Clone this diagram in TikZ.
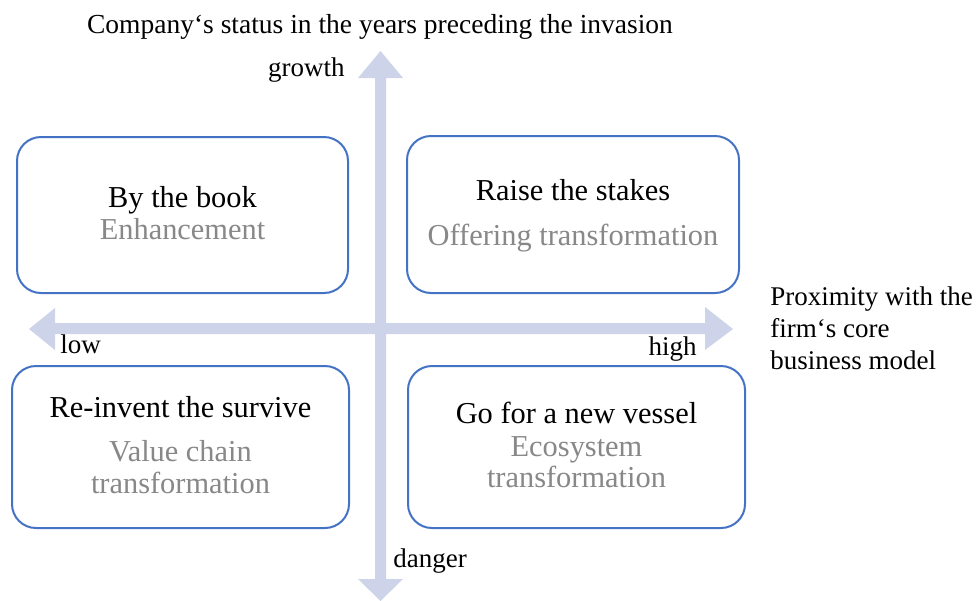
\documentclass[tikz,border=0pt]{standalone}
\usepackage{fontspec}
\setmainfont{Liberation Serif}
\definecolor{axiscol}{RGB}{205,212,234}
\definecolor{boxblue}{RGB}{68,114,196}
\definecolor{subgray}{RGB}{136,136,136}
\tikzset{
  quad/.style={draw=boxblue, line width=1pt, rounded corners=12pt, fill=white, inner sep=0pt},
  maintxt/.style={anchor=base, inner sep=0pt, font=\fontsize{15.2}{17}\selectfont, text=black},
  subtxt/.style={anchor=base, inner sep=0pt, font=\fontsize{15.2}{17}\selectfont, text=subgray},
  lbl/.style={anchor=base, inner sep=0pt, font=\fontsize{13.5}{16}\selectfont, text=black},
  axisfill/.style={fill=axiscol, draw=none}
}
\begin{document}
\begin{tikzpicture}[x=0.5pt,y=-0.5pt]
\useasboundingbox (0,0) rectangle (978,600);
% axes
\fill[axisfill] (55,323) -- (55,308) -- (29,329) -- (55,350) -- (55,334) -- (705,334) -- (705,350) -- (733,329) -- (705,307) -- (705,323) -- cycle;
\fill[axisfill] (375,78) -- (358,78) -- (380.5,51) -- (403,78) -- (386,78) -- (386,579) -- (403,579) -- (380.5,601) -- (358,579) -- (375,579) -- cycle;
% boxes
\node[quad, minimum width=165.5pt, minimum height=78pt] (tl) at (182.5,215) {};
\node[quad, minimum width=166pt, minimum height=78.5pt] (tr) at (573,214.5) {};
\node[quad, minimum width=168.5pt, minimum height=81pt] (bl) at (180.5,447) {};
\node[quad, minimum width=168.5pt, minimum height=81pt] (br) at (576.5,447) {};
% box texts
\node[maintxt] (tl1) at (182.5,207) {By the book};
\node[subtxt] (tl2) at (182.5,239) {Enhancement};
\node[maintxt] (tr1) at (573,200) {Raise the stakes};
\node[subtxt] (tr2) at (573,245) {Offering transformation};
\node[maintxt] (bl1) at (180.5,417) {Re-invent the survive};
\node[subtxt] (bl2) at (180.5,461) {Value chain};
\node[subtxt] (bl3) at (180.5,493) {transformation};
\node[maintxt] (br1) at (576.5,423) {Go for a new vessel};
\node[subtxt] (br2) at (576.5,456) {Ecosystem};
\node[subtxt] (br3) at (576.5,487) {transformation};
% labels
\node[lbl, font=\fontsize{13.75}{16}\selectfont] (title) at (380,33) {Company‘s status in the years preceding the invasion};
\node[lbl, anchor=base east] (growth) at (345,76) {growth};
\node[lbl, anchor=base west] (low) at (60,353) {low};
\node[lbl, anchor=base east] (high) at (697,355) {high};
\node[lbl, anchor=base west] (danger) at (393,567) {danger};
\node[lbl, anchor=base west] (px1) at (770,305) {Proximity with the};
\node[lbl, anchor=base west] (px2) at (770,337) {firm‘s core};
\node[lbl, anchor=base west] (px3) at (770,369) {business model};
\end{tikzpicture}
\end{document}
